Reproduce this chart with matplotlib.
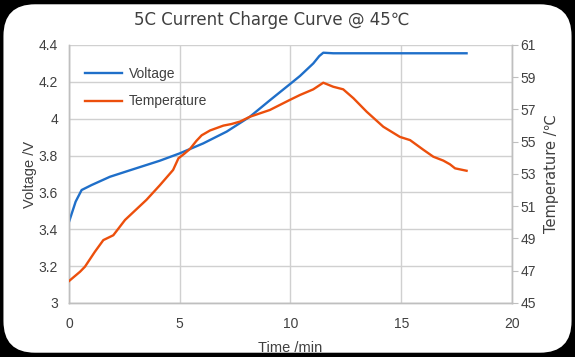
import matplotlib.pyplot as plt
from matplotlib.patches import FancyBboxPatch

plt.rcParams.update({
    "font.family": ["Liberation Sans", "DejaVu Sans"],
    "font.size": 10,
})

# voltage curve (min, V)
t_volt = [0.0, 0.3, 0.57, 1.02, 1.85, 2.75, 4.1, 5.0, 6.06, 7.12, 8.17, 9.07,
          10.0, 10.43, 11.03, 11.3, 11.48, 11.93, 13.0, 15.0, 17.95]
voltage = [3.44, 3.55, 3.613, 3.64, 3.685, 3.72, 3.772, 3.812, 3.866, 3.93, 4.011, 4.10,
           4.19, 4.232, 4.30, 4.34, 4.358, 4.355, 4.355, 4.355, 4.355]

# temperature curve (min, degC)
t_temp = [0.0, 0.5, 0.72, 1.17, 1.55, 2.0, 2.53, 3.5, 4.1, 4.7, 4.94, 5.2, 5.46, 5.75,
          5.99, 6.37, 6.97, 7.34, 7.72, 8.17, 9.07, 9.98, 10.43, 11.03, 11.48, 11.93,
          12.38, 12.84, 13.44, 14.19, 14.94, 15.4, 16.0, 16.45, 16.9, 17.2, 17.43, 17.95]
temperature = [46.36, 46.94, 47.25, 48.18, 48.9, 49.2, 50.15, 51.4, 52.3, 53.25, 53.97,
               54.25, 54.55, 55.05, 55.4, 55.7, 56.0, 56.1, 56.25, 56.55, 56.97, 57.6,
               57.9, 58.25, 58.66, 58.41, 58.25, 57.7, 56.86, 55.93, 55.3, 55.1, 54.5,
               54.07, 53.83, 53.6, 53.35, 53.2]

x_ticks = [0, 5, 10, 15, 20]
v_ticks = [3, 3.2, 3.4, 3.6, 3.8, 4, 4.2, 4.4]
v_labels = ["3", "3.2", "3.4", "3.6", "3.8", "4", "4.2", "4.4"]
t_ticks = [45, 47, 49, 51, 53, 55, 57, 59, 61]

BLUE = "#1F6FC9"
ORANGE = "#EC4F0C"
GRID = "#D0D0D0"
TEXT = "#404040"

fig = plt.figure(figsize=(5.75, 3.57), dpi=100, facecolor="black")
panel = FancyBboxPatch((0.006, 0.012), 0.988, 0.976, boxstyle="round,pad=0,rounding_size=0.055",
                       transform=fig.transFigure, facecolor="white", edgecolor="none",
                       mutation_aspect=575 / 357, zorder=-10)
fig.patches.append(panel)

ax = fig.add_axes([0.12, 0.1513, 0.7704, 0.7227])
ax.set_facecolor("none")
ax2 = ax.twinx()

l1, = ax.plot(t_volt, voltage, color=BLUE, lw=1.7, label="Voltage", zorder=3)
l2, = ax2.plot(t_temp, temperature, color=ORANGE, lw=1.7, label="Temperature", zorder=3)

ax.set_xlim(0, 20)
ax.set_ylim(3, 4.4)
ax2.set_ylim(45, 61)
ax.set_xticks(x_ticks)
ax.set_yticks(v_ticks)
ax.set_yticklabels(v_labels)
ax2.set_yticks(t_ticks)

ax.grid(True, color=GRID, lw=1.0)
ax.set_axisbelow(True)
for a in (ax, ax2):
    a.spines["top"].set_visible(False)
    for side in ("left", "bottom", "right"):
        a.spines[side].set_color("#BFBFBF")
        a.spines[side].set_linewidth(1.0)
ax.tick_params(axis="both", length=0, colors=TEXT, labelsize=10, pad=8)
ax.tick_params(axis="x", pad=10)
ax2.tick_params(axis="y", length=4, color="#BFBFBF", labelcolor=TEXT, labelsize=10, pad=2)

ax.set_xlabel("Time /min", color=TEXT, fontsize=10.5, labelpad=7)
ax.set_ylabel("Voltage /V", color=TEXT, fontsize=10.5, labelpad=1)
ax2.set_ylabel("Temperature /℃", color=TEXT, fontsize=10.5, labelpad=6,
               family=["DejaVu Sans"])

ax.legend(handles=[l1, l2], loc="upper left", bbox_to_anchor=(0.009, 0.965), frameon=False,
          fontsize=10, handlelength=2.6, handletextpad=0.5, labelspacing=1.0,
          labelcolor=TEXT)

fig.text(0.472, 0.945, "5C Current Charge Curve @ 45℃", ha="center", va="center",
         fontsize=12, color=TEXT, family=["DejaVu Sans"])

fig.savefig("out.png", dpi=100, facecolor="black")
